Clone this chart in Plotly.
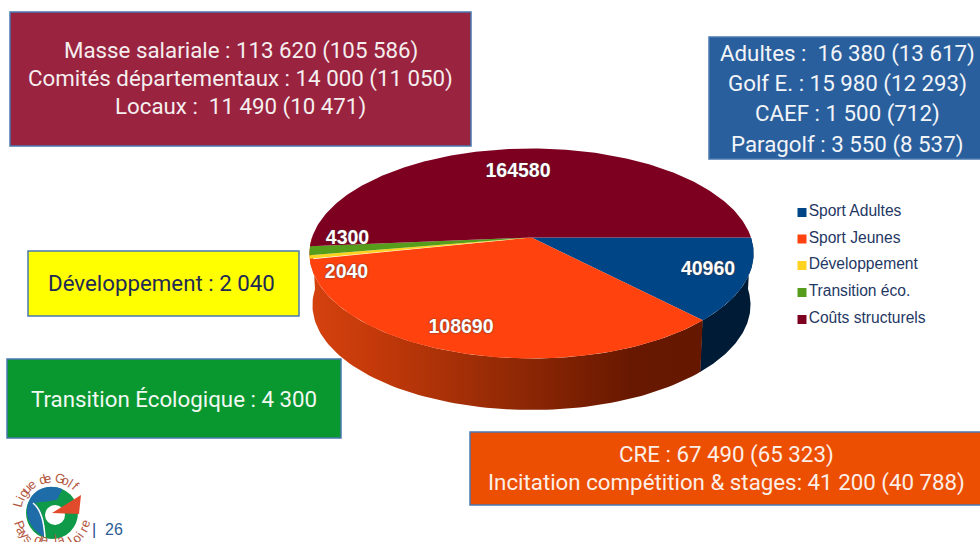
import numpy as np
import plotly.graph_objects as go

# ---- data ----
categories = ["Sport Adultes", "Sport Jeunes", "Développement", "Transition éco.", "Coûts structurels"]
values = [40960, 108690, 2040, 4300, 164580]
colors = ["#004586", "#FF420E", "#FFD320", "#579D1C", "#7E0021"]

# ---- layout of the pie (pixel space of a 980x542 canvas) ----
CX, CY, RX, S, K, DEPTH, RX_BOTTOM = 531.5, 237.5, 219.5, 102.6, 0.152, 51.5, 216.5
label_x = [708, 461, 346.5, 347.5, 518]
label_y = [270, 328, 273, 239, 172.5]
legend_y = [212.5, 239, 265.5, 292.5, 319.5]


def project(theta, rx=RX, dy=0):
    u, v = np.cos(theta), np.sin(theta)
    d = 1 - K * v
    return CX + rx * u / d, CY + dy + S * v / d


fig = go.Figure()
frac = np.cumsum([0] + values) / sum(values) * 2 * np.pi
# side wall
def wall(a, b, **kw):
    t = np.linspace(a, b, 90)
    x1, y1 = project(t)
    x2, y2 = project(t[::-1], RX_BOTTOM, DEPTH)
    fig.add_trace(go.Scatter(x=np.r_[x1, x2], y=np.r_[y1, y2], mode="lines", fill="toself",
                             line=dict(width=0), hoverinfo="skip", showlegend=False, **kw))

wall(0, frac[1] + 0.002, fillcolor="#001B35")
wall(frac[1], np.pi, fillgradient=dict(
    type="horizontal",
    colorscale=[[0, "#D4420F"], [0.15, "#C63A0A"], [0.45, "#9A2C06"], [0.82, "#681800"], [1, "#651700"]]))

# top face
for i, name in enumerate(categories):
    t = np.linspace(frac[i], frac[i + 1], max(8, int(values[i] / 800)))
    x, y = project(t)
    fig.add_trace(go.Scatter(x=np.r_[CX, x, CX], y=np.r_[CY, y, CY], mode="lines", fill="toself",
                             fillcolor=colors[i], line=dict(width=0), name=name,
                             hoverinfo="skip", showlegend=False))

# value labels
fig.add_trace(go.Scatter(x=label_x, y=label_y, mode="text", text=[str(v) for v in values],
                         textfont=dict(family="Liberation Sans", size=19.5, color="white", weight="bold",
                                       shadow="0 0 2px #4a3a3a"),
                         hoverinfo="skip", showlegend=False))

# legend
fig.add_trace(go.Scatter(x=[802] * 5, y=legend_y, mode="markers+text", text=categories,
                         textposition="middle right",
                         marker=dict(symbol="square", size=9, color=colors, line=dict(width=0)),
                         textfont=dict(family="Liberation Sans", size=15.6, color="#1F3864"),
                         hoverinfo="skip", showlegend=False))

# ---- text boxes ----
FONT = "Roboto"
boxes = [
    (10, 12, 471, 146, "#9A2340", "#F5EEEE", [("Masse salariale : 113 620 (105 586)", 50.5),
                                              ("Comités départementaux : 14 000 (11 050)", 78.5),
                                              ("Locaux :  11 490 (10 471)", 106.5)], 240.5),
    (709, 37, 985, 159, "#2A5F9E", "#F2F5F8", [("Adultes :  16 380 (13 617)", 53.5),
                                               ("Golf E. : 15 980 (12 293)", 83.5),
                                               ("CAEF : 1 500 (712)", 113.5),
                                               ("Paragolf : 3 550 (8 537)", 144.5)], 847),
    (28, 251, 299, 316, "#FFFF00", "#1F2A55", [("Développement : 2 040", 282.5)], 161),
    (7, 359, 341, 438, "#08982F", "#F2F8F2", [("Transition Écologique : 4 300", 399)], 174),
    (470, 432, 985, 505, "#EC4E02", "#FBEFE8", [("CRE : 67 490 (65 323)", 454.5),
                                                ("Incitation compétition & stages: 41 200 (40 788)", 482.5)], 726),
]
shapes, annotations = [], []
for x0, y0, x1, y1, fill, fg, lines, xc in boxes:
    shapes.append(dict(type="rect", x0=x0, y0=y0, x1=x1, y1=y1, fillcolor=fill, layer="below",
                       line=dict(color="#4A78B0", width=1.5)))
    for txt, yy in lines:
        annotations.append(dict(x=xc, y=yy, text=txt, showarrow=False, xanchor="center", yanchor="middle",
                                font=dict(family=FONT, size=22.3, color=fg)))

# ---- logo ----
LX, LY = 52, 513
shapes += [
    dict(type="circle", x0=LX - 26, y0=LY - 26, x1=LX + 26, y1=LY + 26, fillcolor="#0E9A48", line=dict(width=0)),
    dict(type="path", path=f"M 35 503 C 42 501 52 502 58 499 C 60 492 63 490 62 489 "
                           f"C 50 484 36 488 30 499 C 23 512 28 528 44 537 C 44 525 44 512 35 503 Z",
         fillcolor="#1F6DA8", line=dict(width=0)),
    dict(type="path", path="M 33 503 C 42 510 44 524 45 537", line=dict(color="white", width=1.5)),
    dict(type="circle", x0=45, y0=505, x1=65, y1=525, fillcolor="white", line=dict(width=0)),
    dict(type="path", path="M 52 513 L 81 495 L 79 514 Z", fillcolor="#E24A2C", line=dict(width=0)),
]
def arc_text(txt, a0, a1, r, top=True):
    for ch, a in zip(txt, np.linspace(a0, a1, len(txt))):
        ar = np.radians(a)
        px, py = LX + r * np.cos(ar), min(LY + r * np.sin(ar), 539)
        if ch == " ":
            continue
        rot = a + 90 if top else a - 90
        annotations.append(dict(x=px, y=py, text=ch, showarrow=False, textangle=rot,
                                font=dict(family="Liberation Sans", size=13, color="#B4573F")))
arc_text("Ligue de Golf", 195, 312, 35)
arc_text("Pays de la Loire", 160, 18, 35, top=False)

annotations.append(dict(x=94, y=529, text="|", showarrow=False,
                        font=dict(family="Liberation Sans", size=16, color="#1F4E8C")))
annotations.append(dict(x=113.5, y=529, text="26", showarrow=False,
                        font=dict(family="Liberation Sans", size=16, color="#2F5F96")))

fig.update_layout(
    width=980, height=542, margin=dict(l=0, r=0, t=0, b=0), autosize=False,
    paper_bgcolor="white", plot_bgcolor="white", showlegend=False,
    xaxis=dict(range=[0, 980], visible=False, fixedrange=True),
    yaxis=dict(range=[542, 0], visible=False, fixedrange=True),
    shapes=shapes, annotations=annotations,
)
fig.write_html("out.html", config=dict(displayModeBar=False),
               post_script="document.body.style.margin='0';document.documentElement.style.overflow='hidden';")
